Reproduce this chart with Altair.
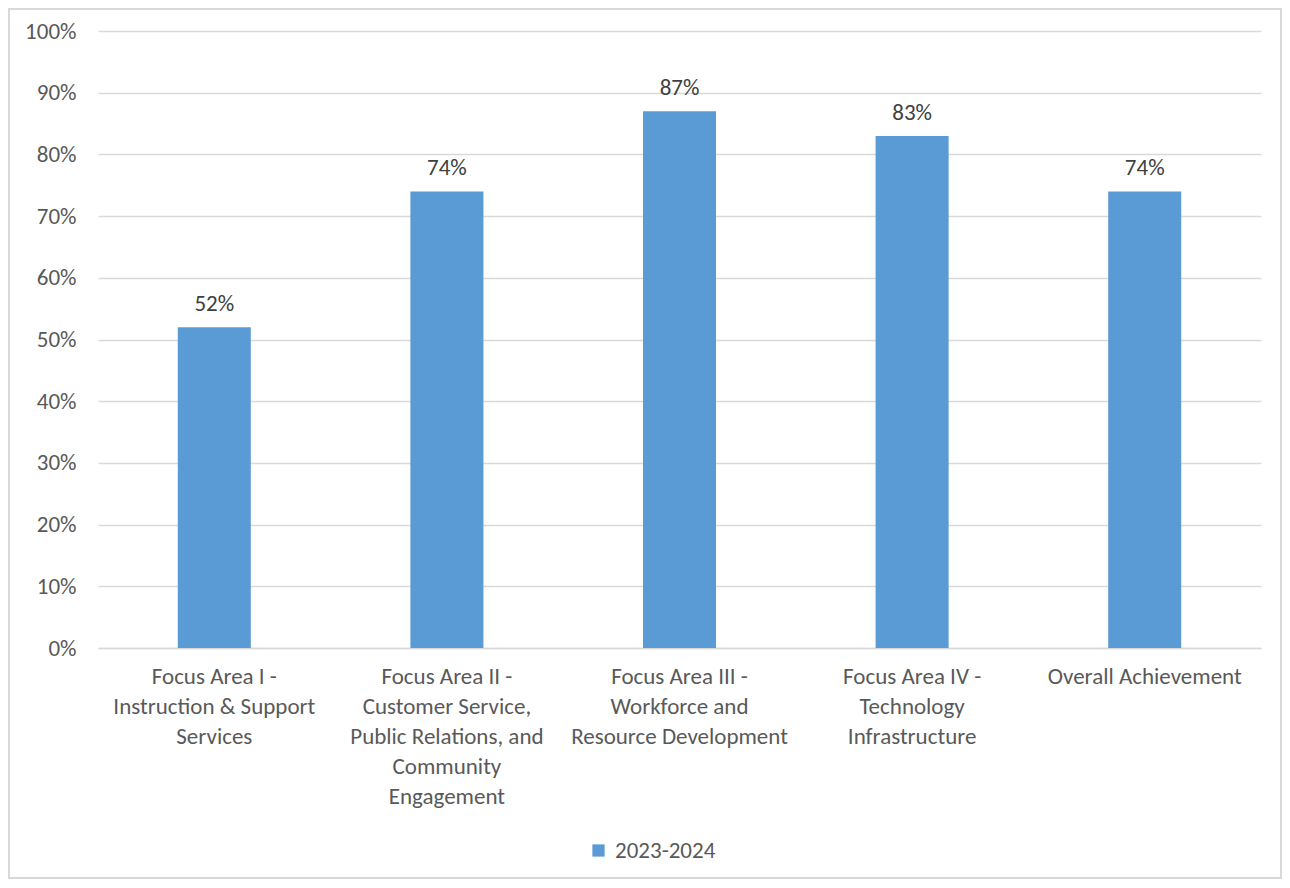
import altair as alt
import pandas as pd

categories = [
    "Focus Area I -|Instruction & Support|Services",
    "Focus Area II -|Customer Service,|Public Relations, and|Community|Engagement",
    "Focus Area III -|Workforce and|Resource Development",
    "Focus Area IV -|Technology|Infrastructure",
    "Overall Achievement",
]
values = [0.52, 0.74, 0.87, 0.83, 0.74]
series = ["2023-2024"] * 5

df = pd.DataFrame({"cat": categories, "val": values, "series": series})

FONT = "Carlito, Lato, sans-serif"
FS = 23
W, H = 1163, 617

x = alt.X(
    "cat:N",
    sort=categories,
    title=None,
    scale=alt.Scale(paddingInner=0.686, paddingOuter=0.343),
    axis=alt.Axis(
        labelExpr="split(datum.label, '|')",
        labelAngle=0,
        labelFont=FONT,
        labelFontSize=FS,
        labelColor="#595959",
        labelLineHeight=30,
        labelPadding=17,
        labelLimit=400,
        labelBaseline="top",
        ticks=False,
        domainColor="#d9d9d9",
        domainWidth=1.5,
        grid=False,
    ),
)
y = alt.Y(
    "val:Q",
    title=None,
    scale=alt.Scale(domain=[0, 1], nice=False),
    axis=alt.Axis(
        values=[i / 10 for i in range(11)],
        format=".0%",
        labelFont=FONT,
        labelFontSize=FS,
        labelColor="#595959",
        labelPadding=22,
        ticks=False,
        domain=False,
        gridColor="#d9d9d9",
        gridWidth=1.5,
    ),
)

bars = alt.Chart(df).mark_bar(stroke=None).encode(
    x=x,
    y=y,
    color=alt.Color(
        "series:N",
        scale=alt.Scale(range=["#5b9bd5"]),
        legend=alt.Legend(
            title=None,
            orient="none",
            legendX=489,
            legendY=808,
            symbolType="square",
            symbolSize=150,
            symbolStrokeWidth=0,
            labelFont=FONT,
            labelFontSize=FS,
            labelColor="#595959",
            labelOffset=5,
        ),
    ),
)

texts = alt.Chart(df).mark_text(
    font=FONT, fontSize=FS, color="#404040", baseline="alphabetic", dy=-16
).encode(x=alt.X("cat:N", sort=categories), y="val:Q", text=alt.Text("val:Q", format=".0%"))

border = alt.Chart(df).mark_rect(fill=None, stroke="#d9d9d9", strokeWidth=1.5).encode(
    x=alt.value(-89), x2=alt.value(1183), y=alt.value(-22), y2=alt.value(847)
)

chart = (
    alt.layer(border, bars, texts)
    .properties(
        width=W,
        height=H,
        autosize=alt.AutoSizeParams(type="none"),
        padding={"left": 90, "top": 23, "right": 21, "bottom": 232},
    )
    .configure_view(stroke=None)
)

chart.save("out.html", embed_options={"renderer": "svg", "actions": False})
